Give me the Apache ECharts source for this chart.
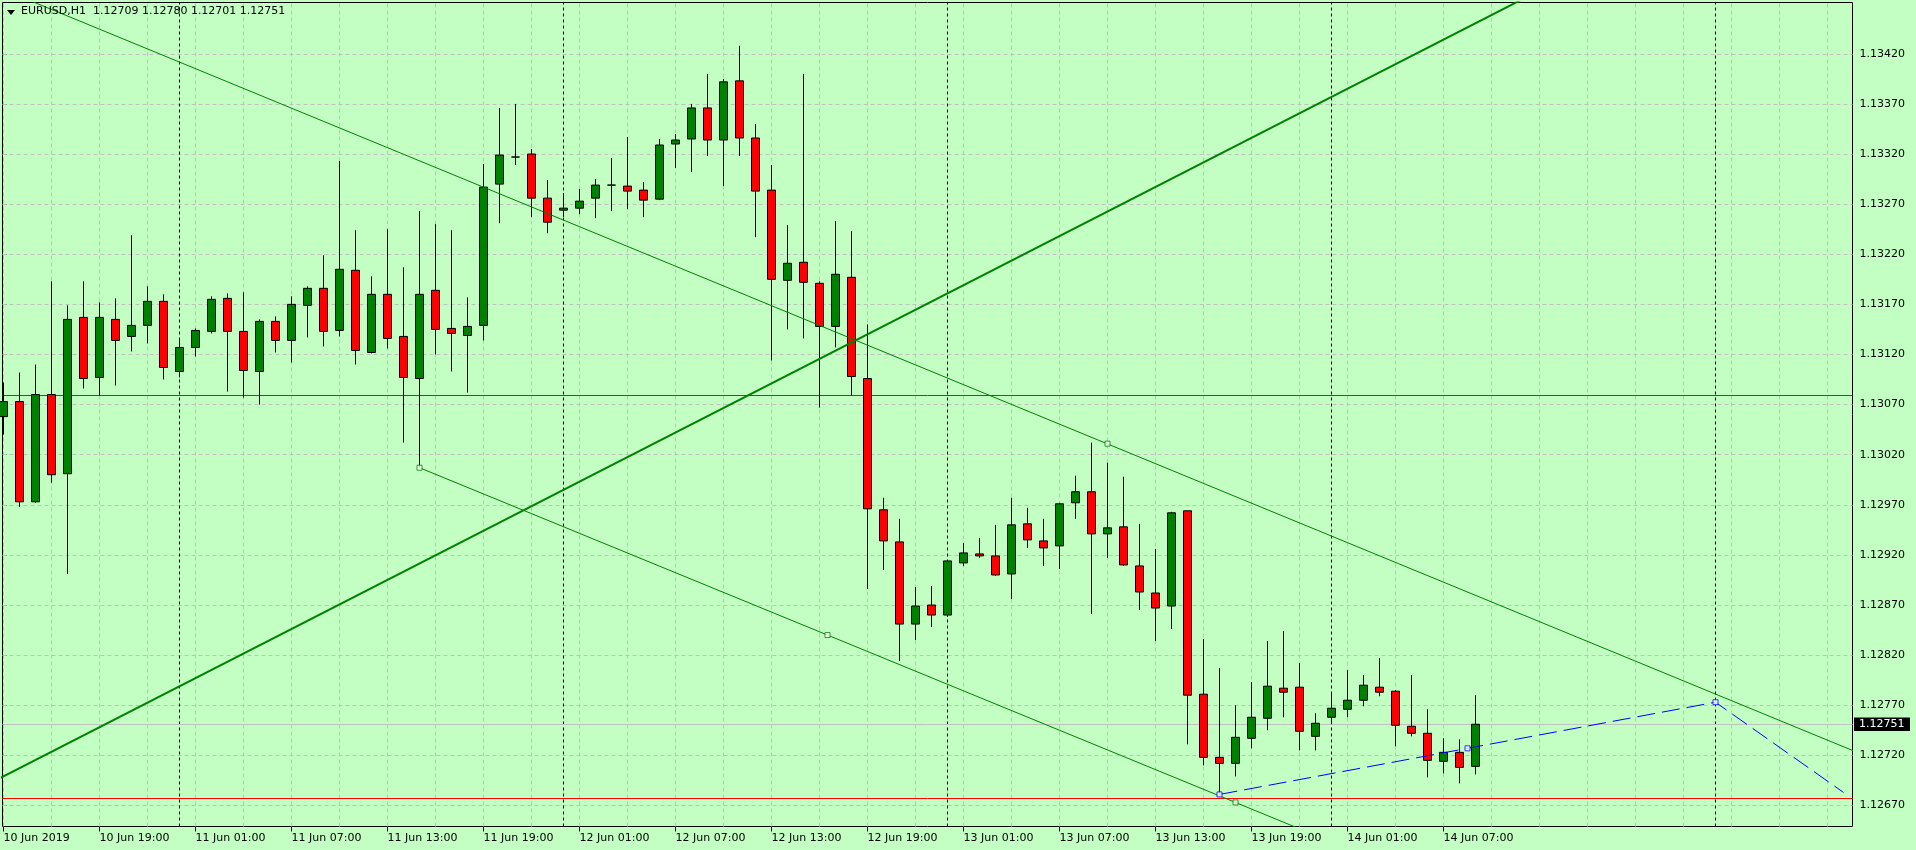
<!DOCTYPE html>
<html><head><meta charset="utf-8">
<script src="https://cdn.jsdelivr.net/npm/echarts@6/dist/echarts.min.js"></script>
<style>html,body{margin:0;padding:0;background:#C3FFC3;}#c{width:1916px;height:850px;}</style>
</head><body><div id="c"></div>
<script>
// ---- data (EURUSD H1, bars from 10 Jun 2019 13:00 to 14 Jun 2019 09:00) ----
const symbolName = 'EURUSD,H1';
const opens = [1.13058,1.13073,1.12973,1.13080,1.13001,1.13157,1.13097,1.13155,1.13138,1.13149,1.13173,1.13103,1.13127,1.13143,1.13176,1.13143,1.13103,1.13153,1.13134,1.13169,1.13186,1.13144,1.13204,1.13122,1.13180,1.13138,1.13096,1.13184,1.13146,1.13139,1.13149,1.13290,1.13317,1.13320,1.13276,1.13264,1.13266,1.13276,1.13289,1.13288,1.13284,1.13275,1.13330,1.13335,1.13366,1.13334,1.13393,1.13336,1.13284,1.13194,1.13212,1.13191,1.13148,1.13197,1.13096,1.12965,1.12933,1.12851,1.12870,1.12860,1.12912,1.12921,1.12919,1.12901,1.12951,1.12934,1.12929,1.12972,1.12983,1.12941,1.12948,1.12909,1.12882,1.12869,1.12964,1.12781,1.12718,1.12712,1.12737,1.12757,1.12787,1.12788,1.12739,1.12758,1.12766,1.12775,1.12788,1.12784,1.12749,1.12742,1.12714,1.12723,1.12709];
const highs = [1.13092,1.13102,1.13110,1.13193,1.13169,1.13193,1.13172,1.13176,1.13239,1.13188,1.13180,1.13136,1.13146,1.13178,1.13181,1.13182,1.13155,1.13158,1.13178,1.13188,1.13219,1.13313,1.13244,1.13198,1.13245,1.13207,1.13263,1.13250,1.13244,1.13177,1.13310,1.13366,1.13370,1.13325,1.13294,1.13281,1.13285,1.13295,1.13316,1.13337,1.13292,1.13335,1.13340,1.13370,1.13400,1.13395,1.13428,1.13350,1.13309,1.13249,1.13400,1.13193,1.13253,1.13243,1.13150,1.12977,1.12956,1.12888,1.12889,1.12915,1.12932,1.12937,1.12950,1.12977,1.12967,1.12956,1.12972,1.12999,1.13032,1.13012,1.12998,1.12951,1.12926,1.12963,1.12964,1.12836,1.12807,1.12770,1.12793,1.12834,1.12844,1.12812,1.12762,1.12782,1.12805,1.12800,1.12817,1.12785,1.12800,1.12766,1.12737,1.12736,1.12780];
const lows = [1.13040,1.12968,1.12972,1.12992,1.12901,1.13086,1.13079,1.13089,1.13123,1.13131,1.13095,1.13097,1.13118,1.13141,1.13083,1.13077,1.13070,1.13122,1.13112,1.13137,1.13128,1.13138,1.13110,1.13121,1.13126,1.13032,1.13007,1.13120,1.13103,1.13082,1.13134,1.13251,1.13309,1.13257,1.13241,1.13257,1.13260,1.13256,1.13263,1.13265,1.13257,1.13274,1.13306,1.13302,1.13318,1.13288,1.13318,1.13237,1.13114,1.13145,1.13136,1.13067,1.13127,1.13079,1.12886,1.12905,1.12814,1.12835,1.12848,1.12858,1.12909,1.12917,1.12899,1.12876,1.12927,1.12909,1.12906,1.12956,1.12861,1.12917,1.12909,1.12865,1.12834,1.12846,1.12731,1.12710,1.12681,1.12699,1.12727,1.12745,1.12758,1.12725,1.12725,1.12751,1.12758,1.12769,1.12779,1.12729,1.12739,1.12698,1.12702,1.12692,1.12701];
const closes = [1.13073,1.12973,1.13080,1.13000,1.13155,1.13096,1.13157,1.13134,1.13149,1.13173,1.13107,1.13127,1.13144,1.13175,1.13143,1.13104,1.13153,1.13134,1.13170,1.13186,1.13143,1.13205,1.13124,1.13180,1.13136,1.13097,1.13180,1.13145,1.13141,1.13148,1.13287,1.13319,1.13317,1.13276,1.13252,1.13266,1.13273,1.13289,1.13289,1.13283,1.13274,1.13329,1.13334,1.13366,1.13334,1.13392,1.13336,1.13283,1.13195,1.13211,1.13192,1.13148,1.13200,1.13098,1.12966,1.12934,1.12851,1.12869,1.12860,1.12914,1.12922,1.12919,1.12900,1.12950,1.12935,1.12927,1.12971,1.12983,1.12941,1.12947,1.12910,1.12883,1.12867,1.12962,1.12780,1.12718,1.12712,1.12738,1.12758,1.12789,1.12783,1.12744,1.12752,1.12767,1.12775,1.12790,1.12783,1.12750,1.12742,1.12715,1.12723,1.12708,1.12751];

const xTickIdx = [0,6,12,18,24,30,36,42,48,54,60,66,72,78,84,90];
const xTickLabels = ['10 Jun 2019','10 Jun 19:00','11 Jun 01:00','11 Jun 07:00','11 Jun 13:00','11 Jun 19:00','12 Jun 01:00','12 Jun 07:00','12 Jun 13:00','12 Jun 19:00','13 Jun 01:00','13 Jun 07:00','13 Jun 13:00','13 Jun 19:00','14 Jun 01:00','14 Jun 07:00'];
const yTickVals = [1.12670,1.12720,1.12770,1.12820,1.12870,1.12920,1.12970,1.13020,1.13070,1.13120,1.13170,1.13220,1.13270,1.13320,1.13370,1.13420];
const yTickLabels = ['1.12670','1.12720','1.12770','1.12820','1.12870','1.12920','1.12970','1.13020','1.13070','1.13120','1.13170','1.13220','1.13270','1.13320','1.13370','1.13420'];
const daySeparators = [11,35,59,83,107];
const redLevels = [1.13079, 1.12677];
const bid = 1.12751;
const trendThick = [[-1,1.12691],[95,1.13475]];
const channelUpper = [[0,1.13484],[116,1.12722]];
const channelLower = [[26,1.13007],[77,1.12673],[84,1.12627]];
const bluePath = [[76,1.12681],[107,1.12773],[115,1.12683]];
const greenHandles = [[26,1.13007],[51.5,1.12840],[77,1.12673],[69,1.13031]];
const blueHandles = [[76,1.12681],[91.5,1.12727],[107,1.12773]];

// ---- chart ----
const BG = '#C3FFC3';
const FONT = 'DejaVu Sans';
const GRIDC = '#C0C0C0';
const bars = opens.map((o,i)=>[i,o,closes[i],lows[i],highs[i]]);

const ml = [];
for (let i = 0; i <= 114; i += 3) ml.push({xAxis:i, lineStyle:{color:GRIDC,type:[4,3],width:1}});
yTickVals.forEach(v=>ml.push({yAxis:v, lineStyle:{color:GRIDC,type:[4,3],width:1}}));
daySeparators.forEach(v=>ml.push({xAxis:v, lineStyle:{color:'#000',type:[3,3],width:1}}));
ml.push({yAxis:bid, lineStyle:{color:GRIDC,type:'solid',width:1}});
redLevels.forEach(v=>ml.push({yAxis:v, lineStyle:{color:'#FF0000',type:'solid',width:1}}));

const last = opens.length-1;
const titleText = symbolName + '  ' + [opens[last],highs[last],lows[last],closes[last]].map(v=>v.toFixed(5)).join(' ');

const option = {
  animation:false,
  backgroundColor:BG,
  textStyle:{fontFamily:FONT},
  grid:{left:2.5,right:63.5,top:2.5,bottom:23.5,show:true,borderColor:'#000',borderWidth:1,backgroundColor:'transparent'},
  xAxis:{type:'value',min:-0.0625,max:115.5625,
    axisLine:{show:false},splitLine:{show:false},
    axisTick:{show:true,length:5,lineStyle:{color:'#000'},customValues:xTickIdx},
    axisLabel:{show:true,customValues:xTickIdx,align:'left',margin:6,color:'#000',fontFamily:FONT,fontSize:11,
      formatter:v=>xTickLabels[xTickIdx.indexOf(Math.round(v))] || ''}},
  yAxis:{type:'value',position:'right',min:1.126490,max:1.134712,scale:true,
    axisLine:{show:false},splitLine:{show:false},
    axisTick:{show:true,length:3,lineStyle:{color:'#000'},customValues:yTickVals},
    axisLabel:{show:true,customValues:yTickVals,margin:7,color:'#000',fontFamily:FONT,fontSize:11,
      formatter:v=>{let k=0,b=1e9;yTickVals.forEach((t,j)=>{if(Math.abs(t-v)<b){b=Math.abs(t-v);k=j;}});return yTickLabels[k];}}},
  series:[
    {type:'line',data:channelUpper,symbol:'none',z:4,clip:true,lineStyle:{color:'#008000',width:1},
      markLine:{symbol:['none','none'],silent:true,animation:false,z:1,precision:6,label:{show:false},data:ml}},
    {type:'candlestick',data:bars,encode:{x:0,y:[1,2,3,4]},barWidth:9,z:3,clip:true,
      itemStyle:{color:'#008000',color0:'#FF0000',borderColor:'#000',borderColor0:'#000',borderWidth:1}},
    {type:'line',data:trendThick,symbol:'none',z:4,clip:true,lineStyle:{color:'#008000',width:2}},
    {type:'line',data:channelLower,symbol:'none',z:4,clip:true,lineStyle:{color:'#008000',width:1}},
    {type:'line',data:bluePath,symbol:'none',z:4,clip:true,lineStyle:{color:'#0000FF',width:1,type:[18,7]}},
    {type:'scatter',data:greenHandles,symbol:'rect',symbolSize:5,z:5,itemStyle:{color:'#FFFFFF',borderColor:'#008000',borderWidth:1}},
    {type:'scatter',data:blueHandles,symbol:'rect',symbolSize:5,z:5,itemStyle:{color:'#FFFFFF',borderColor:'#0000FF',borderWidth:1}}
  ],
  graphic:[
    {type:'polygon',shape:{points:[[7,10],[15,10],[11,15]]},style:{fill:'#000'},z:10},
    {type:'text',left:21,top:6,style:{text:titleText,fill:'#000',font:'11px "DejaVu Sans"'},z:10}
  ]
};
const chart = echarts.init(document.getElementById('c'));
chart.setOption(option);
const yb = chart.convertToPixel({yAxisIndex:0}, bid);
option.graphic.push({type:'rect',shape:{x:1854,y:Math.round(yb)-6.5,width:56,height:13.5},style:{fill:'#000'},z:10});
option.graphic.push({type:'text',x:1859,y:Math.round(yb)+0.5,style:{text:bid.toFixed(5),fill:'#FFF',font:'11px "DejaVu Sans"',verticalAlign:'middle'},z:11});
chart.setOption(option,true);
</script></body></html>
